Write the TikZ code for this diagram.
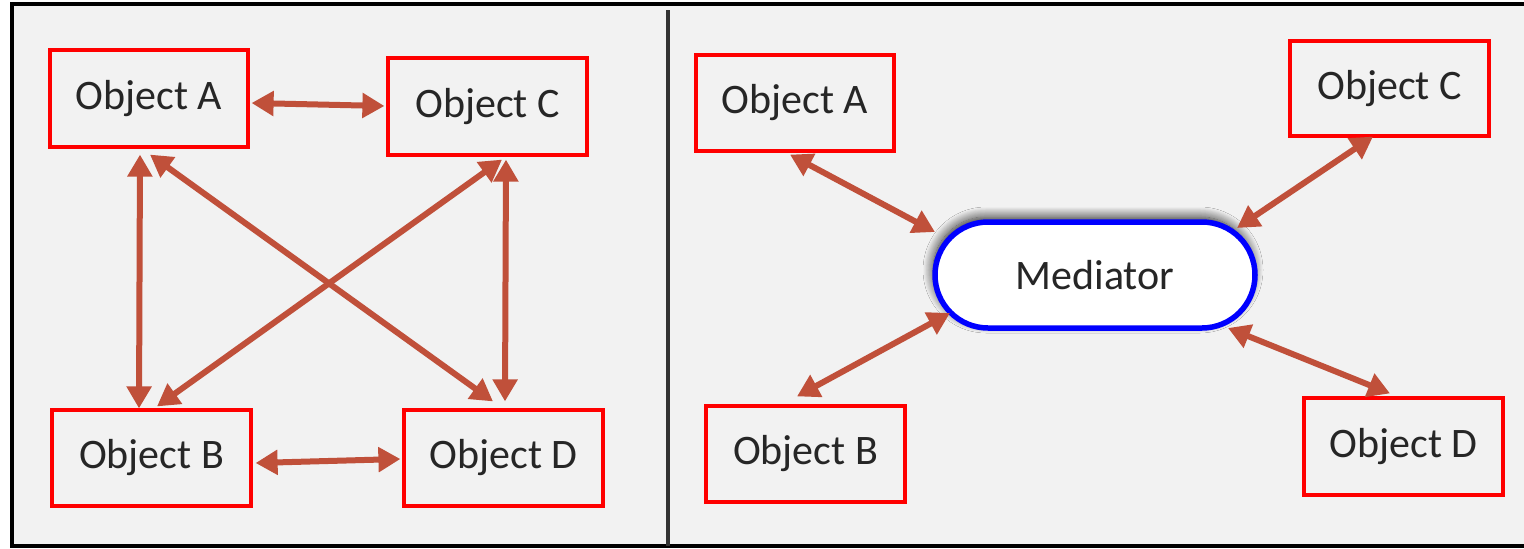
\documentclass[tikz,border=0pt]{standalone}
\usepackage{fontspec}
\setmainfont{Carlito}
\usetikzlibrary{arrows.meta,calc,shadows.blur}
\definecolor{bg}{HTML}{F2F2F2}
\definecolor{arrc}{HTML}{C0503A}
\definecolor{txt}{HTML}{262626}
\begin{document}
\begin{tikzpicture}[x=1pt,y=-1pt,
  obj/.style={draw=red,line width=3.2pt,fill=bg,minimum width=#1,inner sep=0pt,
    text=txt,font=\fontsize{42}{50}\selectfont},
  obj/.default=198pt,
  arr/.style={draw=arrc,line width=6pt,{Triangle[length=22pt,width=24pt]}-{Triangle[length=22pt,width=24pt]}},
  med/.style={draw=blue,line width=5.5pt,fill=white,rounded corners=53pt,
    minimum width=320pt,minimum height=106pt,inner sep=0pt,text=txt,
    font=\fontsize{42}{50}\selectfont,
    blur shadow={shadow xshift=-2pt,shadow yshift=5pt,shadow blur radius=10pt,shadow blur steps=14,shadow opacity=85}}
]
\useasboundingbox (0,0) rectangle (1524,549);
\fill[bg] (12,4) rectangle (1524,546);
\draw[line width=3.5pt,black] (1524,4) -- (12,4) -- (12,546) -- (1524,546);
\coordinate (dt) at (668,10);
\coordinate (db) at (668,546);
\draw[line width=3.5pt,black!80] (dt) -- (db);

% left panel
\node[obj,minimum height=97pt] (lA) at (149,98.5) {Object A};
\node[obj=199pt,minimum height=97pt] (lC) at (487.5,106.5) {Object C};
\node[obj=199pt,minimum height=96pt] (lB) at (151.5,458) {Object B};
\node[obj=199pt,minimum height=96pt] (lD) at (503.5,458) {Object D};

\draw[arr] ($(lA.east)+(2,4.5)$) -- ($(lC.west)+(-2,-0.5)$);
\draw[arr] ($(lA.south)+(-9,6)$) -- ($(lB.north)+(-12.5,0)$);
\draw[arr] ($(lA.south)+(1,6)$) -- ($(lD.north)+(-10.5,-7)$);
\draw[arr] ($(lC.south)+(14.5,3)$) -- ($(lB.north)+(5.5,-2)$);
\draw[arr] ($(lC.south)+(18.5,3)$) -- ($(lD.north)+(1.5,-7)$);
\draw[arr] ($(lB.east)+(3,5)$) -- ($(lD.west)+(-2,1)$);

% right panel
\node[obj,minimum height=96pt] (rA) at (795,103) {Object A};
\node[obj=199pt,minimum height=95pt] (rC) at (1389.5,88.5) {Object C};
\node[obj=199pt,minimum height=96pt] (rB) at (805.5,454) {Object B};
\node[obj=199pt,minimum height=97pt] (rD) at (1403.5,446.5) {Object D};
\node[med] (m) at (1095,275) {Mediator};

\draw[arr] ($(rA.south)+(-5,2)$) -- ($(m.center)+(-160,-43)$);
\draw[arr] ($(rC.south)+(-16.5,-1)$) -- ($(m.center)+(142,-47)$);
\draw[arr] ($(rB.north)+(-8.5,-8)$) -- ($(m.center)+(-145,38)$);
\draw[arr] ($(rD.north)+(-13.5,-3)$) -- ($(m.center)+(133,53)$);
\end{tikzpicture}
\end{document}
